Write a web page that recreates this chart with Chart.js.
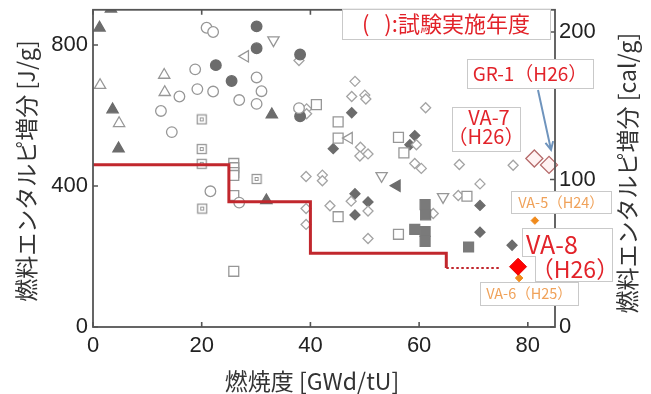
<!DOCTYPE html>
<html>
<head>
<meta charset="utf-8">
<script src="https://cdn.jsdelivr.net/npm/chart.js@4.4.1/dist/chart.umd.min.js"></script>
<style>
  html, body { margin: 0; padding: 0; background: #fff; }
</style>
</head>
<body>
<canvas id="enthalpyChart" width="651" height="394"></canvas>
<script>
// burnup [GWd/tU], fuel enthalpy increment [J/g]
const openCircles = [[20.9,849],[22.1,837],[18.8,731],[30.1,708],[15.9,654],[19.2,675],[22.1,668],[31.0,669],[26.9,644],[30.1,633],[12.5,613],[14.5,553],[37.9,621],[21.6,385],[26.9,353]];
const filledCircles = [[30.1,853],[30.1,791],[22.6,743],[25.5,698],[38.1,773],[38.1,598]];
const openTriangles = [[1.3,686],[13.1,715],[13.2,666],[4.8,578]];
const filledTriangles = [[3.3,903],[1.2,849],[3.6,617],[4.7,506],[32.9,603],[31.9,359]];
const openDownTriangles = [[33.2,814],[53.1,429],[64.4,369]];
const openLeftTriangles = [[28.0,768],[47.1,536]];
const filledLeftTriangles = [[55.9,401]];
const openSquares = [[41.1,631],[45.1,582],[45.1,536],[56.2,538],[57.2,494],[25.9,464],[25.9,452],[25.9,438],[25.9,430],[25.9,373],[25.9,158],[45.1,313],[56.2,263],[68.8,371]];
const dotSquares = [[20.0,589],[20.0,505],[20.0,463],[30.1,420],[20.1,336]];
const filledSquares = [[61.1,347],[61.2,318],[59.2,277],[61.1,271],[61.1,243],[69.1,227]];
const openDiamonds = [[37.9,756],[39.3,619],[39.3,605],[48.2,697],[47.6,654],[50.0,658],[50.2,647],[49.2,510],[49.1,485],[50.6,491],[61.2,622],[59.5,517],[59.2,464],[60.4,450],[39.2,427],[42.2,431],[42.2,415],[47.5,357],[50.6,329],[43.6,344],[39.2,336],[39.2,291],[50.6,251],[67.4,461],[77.3,459],[71.2,406],[67.2,373],[62.6,322]];
const filledDiamonds = [[47.6,608],[44.2,506],[59.2,543],[58.3,517],[48.2,378],[50.6,355],[48.2,318],[71.2,345],[71.2,269],[77.1,232]];

// recent tests (VA-7, GR-1 / VA-8 / VA-5, VA-6)
const h26Open = [[81.2,478],[83.9,460]];
const h26Va8 = [[78.2,171]];
const h24h25 = [[81.3,302],[78.4,139]];

// PCMI failure threshold [cal/g] and its provisional extension
const limitBurnup = [0, 25, 40, 65];
const limitCalPerGram = [110, 85, 50, 40];
const provisionalBurnup = [65, 75];

const xTickLabels = [0, 20, 40, 60, 80];
const yTickLabels = [0, 400, 800];
const y2TickLabels = [0, 100, 200];

const J_PER_CAL = 4.184;
const openGray = '#979797';
const darkGray = '#6c6c6c';
const axisColor = '#555';
const red = '#e2232a';
const orangeText = '#f0a25a';
const latin = "'Liberation Sans', Arial, sans-serif";
const jp = "'Noto Sans CJK JP', 'Noto Sans', sans-serif";

const pts = arr => arr.map(([x, y]) => ({x, y}));

// ⊡ marker
function dotSquareMarker() {
    const c = document.createElement('canvas');
    c.width = 12; c.height = 12;
    const g = c.getContext('2d');
    g.fillStyle = '#fff';
    g.fillRect(1, 1, 10, 10);
    g.strokeStyle = openGray;
    g.lineWidth = 1.3;
    g.strokeRect(1.5, 1.5, 9, 9);
    g.lineWidth = 1;
    g.strokeRect(4.5, 4.5, 3, 3);
    return c;
}

const markerGroups = [
    {data: openCircles, style: 'circle', r: 5.3, fill: '#fff', stroke: openGray},
    {data: filledCircles, style: 'circle', r: 5.3, fill: darkGray, stroke: darkGray},
    {data: openTriangles, style: 'triangle', r: 6.5, fill: '#fff', stroke: openGray},
    {data: filledTriangles, style: 'triangle', r: 6.5, fill: darkGray, stroke: darkGray},
    {data: openDownTriangles, style: 'triangle', r: 6.5, fill: '#fff', stroke: openGray, rot: 180},
    {data: openLeftTriangles, style: 'triangle', r: 6.5, fill: '#fff', stroke: openGray, rot: 270},
    {data: filledLeftTriangles, style: 'triangle', r: 6.5, fill: darkGray, stroke: darkGray, rot: 270},
    {data: openSquares, style: 'rect', r: 7, fill: '#fff', stroke: openGray},
    {data: dotSquares, style: dotSquareMarker(), r: 6, fill: '#fff', stroke: openGray},
    {data: filledSquares, style: 'rect', r: 7, fill: '#7a7a7a', stroke: '#7a7a7a'},
    {data: openDiamonds, style: 'rectRot', r: 5, fill: '#fff', stroke: '#a4a4a4'},
    {data: filledDiamonds, style: 'rectRot', r: 5, fill: darkGray, stroke: darkGray}
];

const datasets = markerGroups.map(g => ({
    type: 'scatter',
    data: pts(g.data),
    pointStyle: g.style,
    pointRadius: g.r,
    pointRotation: g.rot || 0,
    pointBackgroundColor: g.fill,
    pointBorderColor: g.stroke,
    pointBorderWidth: 1.3,
    order: 5
}));

// horizontal first, then down at each burnup break
datasets.push({
    type: 'line',
    data: limitBurnup.map((b, i) => ({x: b, y: limitCalPerGram[i] * J_PER_CAL})),
    stepped: 'before',
    borderColor: '#c1272d',
    borderWidth: 3,
    pointRadius: 0,
    fill: false,
    order: 3
});
datasets.push({
    type: 'line',
    data: provisionalBurnup.map(b => ({x: b, y: limitCalPerGram[limitCalPerGram.length - 1] * J_PER_CAL})),
    borderColor: '#c1272d',
    borderWidth: 2.2,
    borderDash: [2.5, 2.5],
    pointRadius: 0,
    fill: false,
    order: 3
});
datasets.push({
    type: 'scatter',
    data: pts(h26Open),
    pointStyle: 'rectRot',
    pointRadius: 8.5,
    pointBackgroundColor: '#fff3f3',
    pointBorderColor: '#b56a6a',
    pointBorderWidth: 1.3,
    clip: false,
    order: 1
});
datasets.push({
    type: 'scatter',
    data: pts(h26Va8),
    pointStyle: 'rectRot',
    pointRadius: 8.5,
    pointBackgroundColor: '#ff0000',
    pointBorderColor: '#e00000',
    pointBorderWidth: 1,
    order: 1
});
datasets.push({
    type: 'scatter',
    data: pts(h24h25),
    pointStyle: 'rectRot',
    pointRadius: 3.8,
    pointBackgroundColor: '#f08a1c',
    pointBorderColor: '#f08a1c',
    pointBorderWidth: 1,
    order: 1
});

// fixed box sizes so the plot area stays put
const fixBox = size => scale => {
    if (scale.isHorizontal()) scale.height = size; else scale.width = size;
    scale.paddingTop = scale.paddingBottom = scale.paddingLeft = scale.paddingRight = 0;
};

// frame plus inward tick marks on all four sides
const insideTicks = {
    id: 'insideTicks',
    afterDatasetsDraw(chart) {
        const {ctx, chartArea: a, scales} = chart;
        const len = 5;
        ctx.save();
        ctx.strokeStyle = axisColor;
        ctx.lineWidth = 1.6;
        ctx.beginPath();
        scales.x.ticks.forEach(t => {
            const p = scales.x.getPixelForValue(t.value);
            ctx.moveTo(p, a.bottom); ctx.lineTo(p, a.bottom - len);
            ctx.moveTo(p, a.top); ctx.lineTo(p, a.top + len);
        });
        scales.y.ticks.forEach(t => {
            const p = scales.y.getPixelForValue(t.value);
            ctx.moveTo(a.left, p); ctx.lineTo(a.left + len, p);
        });
        scales.y2.ticks.forEach(t => {
            const p = scales.y2.getPixelForValue(t.value);
            ctx.moveTo(a.right, p); ctx.lineTo(a.right - len, p);
        });
        ctx.stroke();
        ctx.lineWidth = 1.8;
        ctx.strokeRect(a.left, a.top, a.right - a.left, a.bottom - a.top);
        ctx.restore();
    }
};

function labelBox(ctx, x, y, w, h) {
    ctx.fillStyle = '#fff';
    ctx.fillRect(x, y, w, h);
    ctx.strokeStyle = '#c9c9c9';
    ctx.lineWidth = 1;
    ctx.strokeRect(x + 0.5, y + 0.5, w, h);
}

function text(ctx, str, x, y, size, color) {
    ctx.font = size + 'px ' + jp;
    ctx.fillStyle = color;
    ctx.textAlign = 'center';
    ctx.textBaseline = 'middle';
    ctx.fillText(str, x, y);
}

// axis titles and test labels
const notes = {
    id: 'notes',
    afterDraw(chart) {
        const {ctx, scales} = chart;
        ctx.save();

        text(ctx, '燃焼度 [GWd/tU]', 312, 381, 23, '#333');
        ctx.save();
        ctx.translate(26, 171);
        ctx.rotate(-Math.PI / 2);
        text(ctx, '燃料エンタルピ増分 [J/g]', 0, 0, 23, '#333');
        ctx.restore();
        ctx.save();
        ctx.translate(627, 173);
        ctx.rotate(-Math.PI / 2);
        text(ctx, '燃料エンタルピ増分 [cal/g]', 0, 0, 23, '#333');
        ctx.restore();

        labelBox(ctx, 342, 9, 208, 30);
        text(ctx, '(   ):試験実施年度', 446, 24, 22, red);

        // GR-1 label with arrow to its point
        labelBox(ctx, 467, 59, 126, 29);
        text(ctx, 'GR-1（H26）', 530, 74, 19, red);
        const gx = scales.x.getPixelForValue(h26Open[1][0]);
        const gy = scales.y.getPixelForValue(h26Open[1][1]);
        const ex = gx + 2, ey = gy - 15, sx = 538, sy = 90;
        const ang = Math.atan2(ey - sy, ex - sx);
        ctx.strokeStyle = '#6f94bd';
        ctx.lineWidth = 2;
        ctx.beginPath();
        ctx.moveTo(sx, sy); ctx.lineTo(ex, ey);
        ctx.moveTo(ex - 9 * Math.cos(ang - 0.45), ey - 9 * Math.sin(ang - 0.45));
        ctx.lineTo(ex, ey);
        ctx.lineTo(ex - 9 * Math.cos(ang + 0.45), ey - 9 * Math.sin(ang + 0.45));
        ctx.stroke();

        labelBox(ctx, 452, 107, 68, 44);
        text(ctx, 'VA-7', 489, 117, 20, red);
        text(ctx, '（H26）', 486, 136, 20, red);

        labelBox(ctx, 511, 191, 100, 22);
        text(ctx, 'VA-5（H24）', 561, 202, 14.5, orangeText);

        // VA-8 label: two overlapping boxes drawn as one outline
        ctx.strokeStyle = '#c9c9c9';
        ctx.lineWidth = 1;
        ctx.strokeRect(522.5, 228.5, 90, 28);
        ctx.strokeRect(535.5, 250.5, 77, 31);
        ctx.fillStyle = '#fff';
        ctx.fillRect(523, 229, 89, 27);
        ctx.fillRect(536, 251, 76, 30);
        text(ctx, 'VA-8', 552, 244, 25, red);
        text(ctx, '（H26）', 575, 269, 23, red);

        labelBox(ctx, 480, 282, 98, 23);
        text(ctx, 'VA-6（H25）', 529, 293.5, 14.5, orangeText);

        ctx.restore();
    }
};

new Chart(document.getElementById('enthalpyChart').getContext('2d'), {
    data: {datasets},
    options: {
        responsive: false,
        animation: false,
        layout: {padding: {top: 4}},
        plugins: {
            legend: {display: false},
            tooltip: {enabled: false}
        },
        scales: {
            x: {
                type: 'linear', position: 'bottom', min: 0, max: 85,
                grid: {display: false, drawTicks: false},
                border: {display: false},
                ticks: {
                    stepSize: 10, includeBounds: false, autoSkip: false, maxRotation: 0,
                    padding: 6, color: '#222', font: {family: latin, size: 22},
                    callback: v => xTickLabels.includes(v) ? v : null
                },
                afterFit: fixBox(67)
            },
            y: {
                type: 'linear', position: 'left', min: 0, max: 900,
                grid: {display: false, drawTicks: false},
                border: {display: false},
                ticks: {
                    stepSize: 100, includeBounds: false,
                    padding: 5, color: '#222', font: {family: latin, size: 22},
                    callback: v => yTickLabels.includes(v) ? v : null
                },
                afterFit: fixBox(93)
            },
            y2: {
                type: 'linear', position: 'right', min: 0, max: 900 / J_PER_CAL,
                grid: {display: false, drawTicks: false},
                border: {display: false},
                ticks: {
                    stepSize: 50, includeBounds: false,
                    padding: 4, color: '#222', font: {family: latin, size: 22},
                    callback: v => y2TickLabels.includes(v) ? v : null
                },
                afterFit: fixBox(96)
            }
        }
    },
    plugins: [insideTicks, notes]
});
</script>
</body>
</html>
